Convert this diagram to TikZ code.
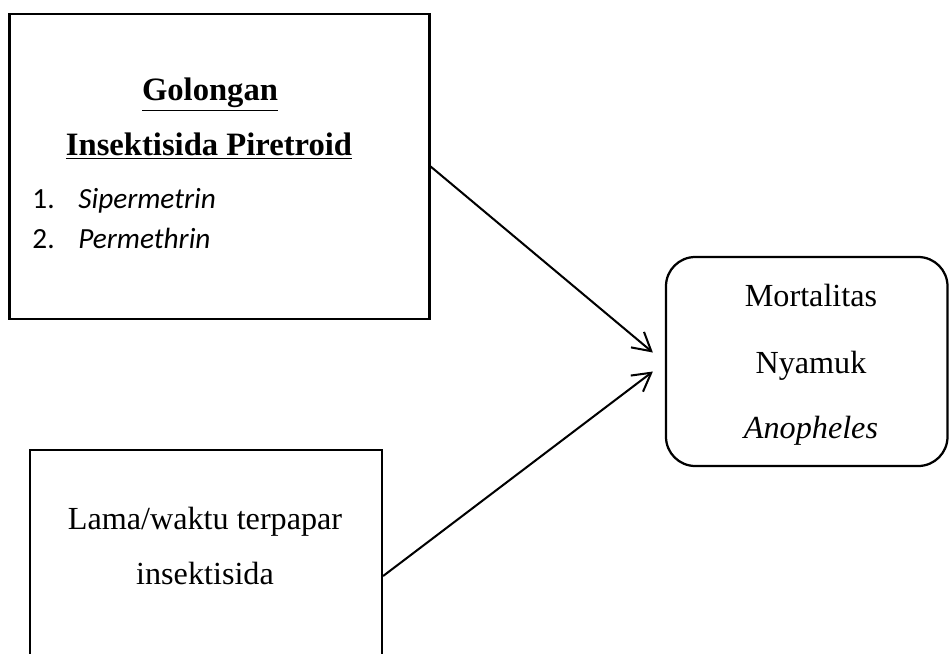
\documentclass[tikz,border=0pt]{standalone}
\usepackage{fontspec}
\setmainfont{Liberation Serif}
\newfontfamily\listfont{Carlito}
\usetikzlibrary{arrows.meta,positioning,calc}

\begin{document}
\begin{tikzpicture}[
    x=0.4444pt,y=-0.4444pt,
    box/.style={draw,line width=1pt,inner sep=0pt},
    roundbox/.style={box,rounded corners=13pt},
    txt/.style={inner sep=0pt,anchor=base,font=\fontsize{14.3}{17}\selectfont},
    head/.style={txt,font=\fontsize{14.5}{17}\selectfont\bfseries},
    item/.style={inner sep=0pt,anchor=base west,font=\listfont\fontsize{13}{15}\selectfont},
    link/.style={line width=0.9pt,-{Straight Barb[length=8pt,width=9pt]}}
  ]
    \useasboundingbox (0,0) rectangle (949,653);
    \clip (0,0) rectangle (949,653);
    % boxes
    \node[box,minimum width=420*0.4444pt,minimum height=305*0.4444pt] (golongan) at (219.5,166.5) {};
    \node[box,minimum width=352*0.4444pt,minimum height=252*0.4444pt] (lama) at (206,576) {};
    \node[roundbox,minimum width=281.5*0.4444pt,minimum height=209*0.4444pt] (mortal) at (806.75,361.5) {};
    % texts
    \node[head] (g1) at (210,100) {\underline{Golongan}};
    \node[head] (g2) at (209,155) {\underline{Insektisida Piretroid}};
    \node[item] (i1) at (32,208) {\makebox[20.4pt][l]{1.}\textit{Sipermetrin}};
    \node[item] (i2) at (32,248) {\makebox[20.4pt][l]{2.}\textit{Permethrin}};
    \node[txt] (l1) at (205,529) {Lama/waktu terpapar};
    \node[txt] (l2) at (205,584) {insektisida};
    \node[txt] (m1) at (811,306) {Mortalitas};
    \node[txt] (m2) at (811,373) {Nyamuk};
    \node[txt] (m3) at (811,438) {\textit{Anopheles}};
    % arrows
    \coordinate (in1) at ($(mortal.west)+(-12,-9)$);
    \coordinate (in2) at ($(mortal.west)+(-12,10)$);
    \draw[link] (golongan.east) -- (in1);
    \draw[link] (lama.east) -- (in2);
  \end{tikzpicture}
\end{document}
